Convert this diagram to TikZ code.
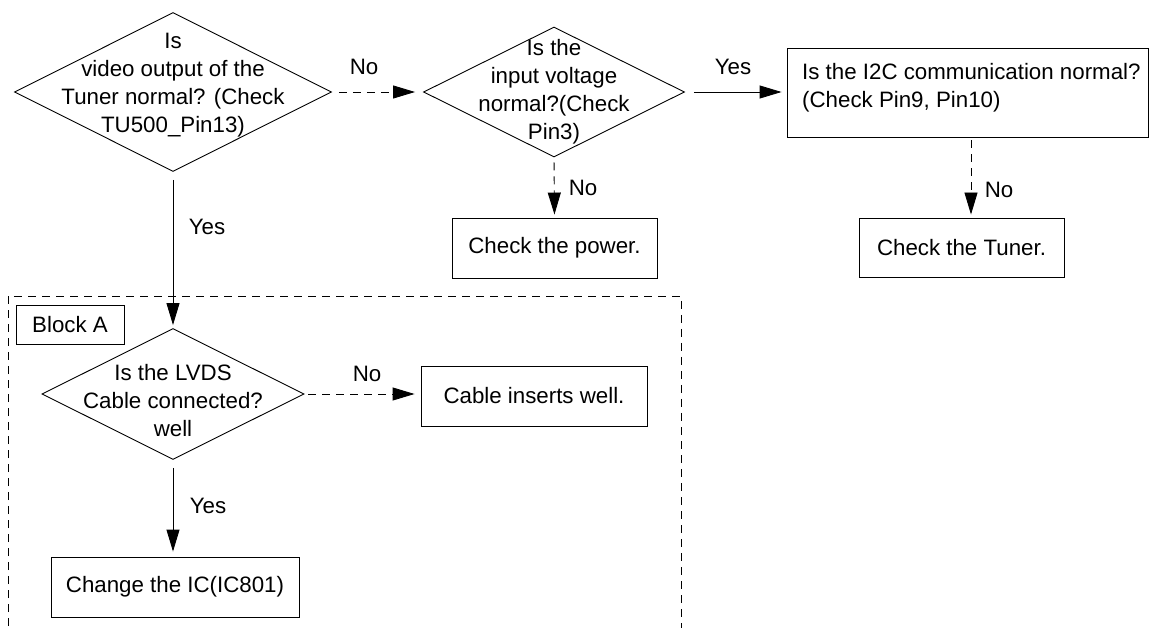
\documentclass[tikz,border=0pt]{standalone}
\usepackage{fontspec}
\setmainfont{Liberation Sans}
\usetikzlibrary{shapes.geometric,arrows.meta}
\begin{document}
\begin{tikzpicture}[x=1pt,y=-1pt,
  every node/.style={font=\fontsize{22.3}{28}\selectfont},
  dia/.style={draw,diamond,inner sep=0pt,line width=0.9pt},
  box/.style={draw,rectangle,inner sep=0pt,line width=0.9pt},
  txt/.style={align=center,inner sep=0pt},
  lbl/.style={inner sep=0pt},
  arr/.style={line width=0.9pt,-{Triangle[length=22pt,width=13pt]}},
  dsh/.style={dash pattern=on 8pt off 6pt}]
\useasboundingbox (0,0) rectangle (1149,628);
% dashed frame of Block A
\draw[line width=0.9pt,dsh] (8,640) -- (8,296) -- (681,296) -- (681,640);
% nodes
\node[dia,minimum width=317pt,minimum height=159pt] (d1) at (173,92) {};
\node[txt] (d1t) at (173,85) {Is\\video output of the\\Tuner normal? (Check\\TU500\_Pin13)};
\node[dia,minimum width=261pt,minimum height=130pt] (d2) at (554,92) {};
\node[txt] (d2t) at (554,92) {Is the\\input voltage\\normal?(Check\\Pin3)};
\node[box,minimum width=361pt,minimum height=89pt] (i2c) at (967.5,92.5) {};
\node[txt,align=left,anchor=west] (i2ct) at (802,88) {Is the I2C communication normal?\\(Check Pin9, Pin10)};
\node[box,minimum width=205pt,minimum height=60pt] (pw) at (554.5,248) {Check the power.};
\node[box,minimum width=205pt,minimum height=59pt] (tu) at (961.5,247.5) {Check the Tuner.};
\node[box,minimum width=108pt,minimum height=39pt] (blk) at (70,324.5) {Block A};
\node[dia,minimum width=262pt,minimum height=131pt] (d3) at (173,394) {};
\node[txt] (d3t) at (173,401) {Is the LVDS\\Cable connected?\\well};
\node[box,minimum width=226pt,minimum height=60pt] (cb) at (534,396) {Cable inserts well.};
\node[box,minimum width=248pt,minimum height=60pt] (ic) at (175,587) {Change the IC(IC801)};
% connectors
\draw[arr,dsh,shorten <=7pt,shorten >=8pt] (d1.east) -- (d2.west);
\draw[arr,shorten <=9pt,shorten >=5pt] (d2.east) -- (i2c.west |- d2.east);
\draw[arr,dsh,shorten <=5pt,shorten >=3pt] (d2.south) -- (pw.north);
\draw[arr,dsh,shorten <=3pt,shorten >=3pt] ([xshift=3.5pt]i2c.south) -- ([xshift=3.5pt]i2c.south |- tu.north);
\draw[arr,shorten <=8pt,shorten >=3pt] (d1.south) -- (d3.north);
\draw[arr,dsh,shorten <=4pt,shorten >=6pt] (d3.east) -- (cb.west |- d3.east);
\draw[arr,shorten <=8pt,shorten >=5pt] (d3.south) -- (d3.south |- ic.north);
% labels
\node[lbl] (l1) at (364,67) {No};
\node[lbl] (l2) at (733,67) {Yes};
\node[lbl] (l3) at (583,188) {No};
\node[lbl] (l4) at (999,190) {No};
\node[lbl] (l5) at (207,227) {Yes};
\node[lbl] (l6) at (367,374) {No};
\node[lbl] (l7) at (208,506) {Yes};
\end{tikzpicture}
\end{document}
